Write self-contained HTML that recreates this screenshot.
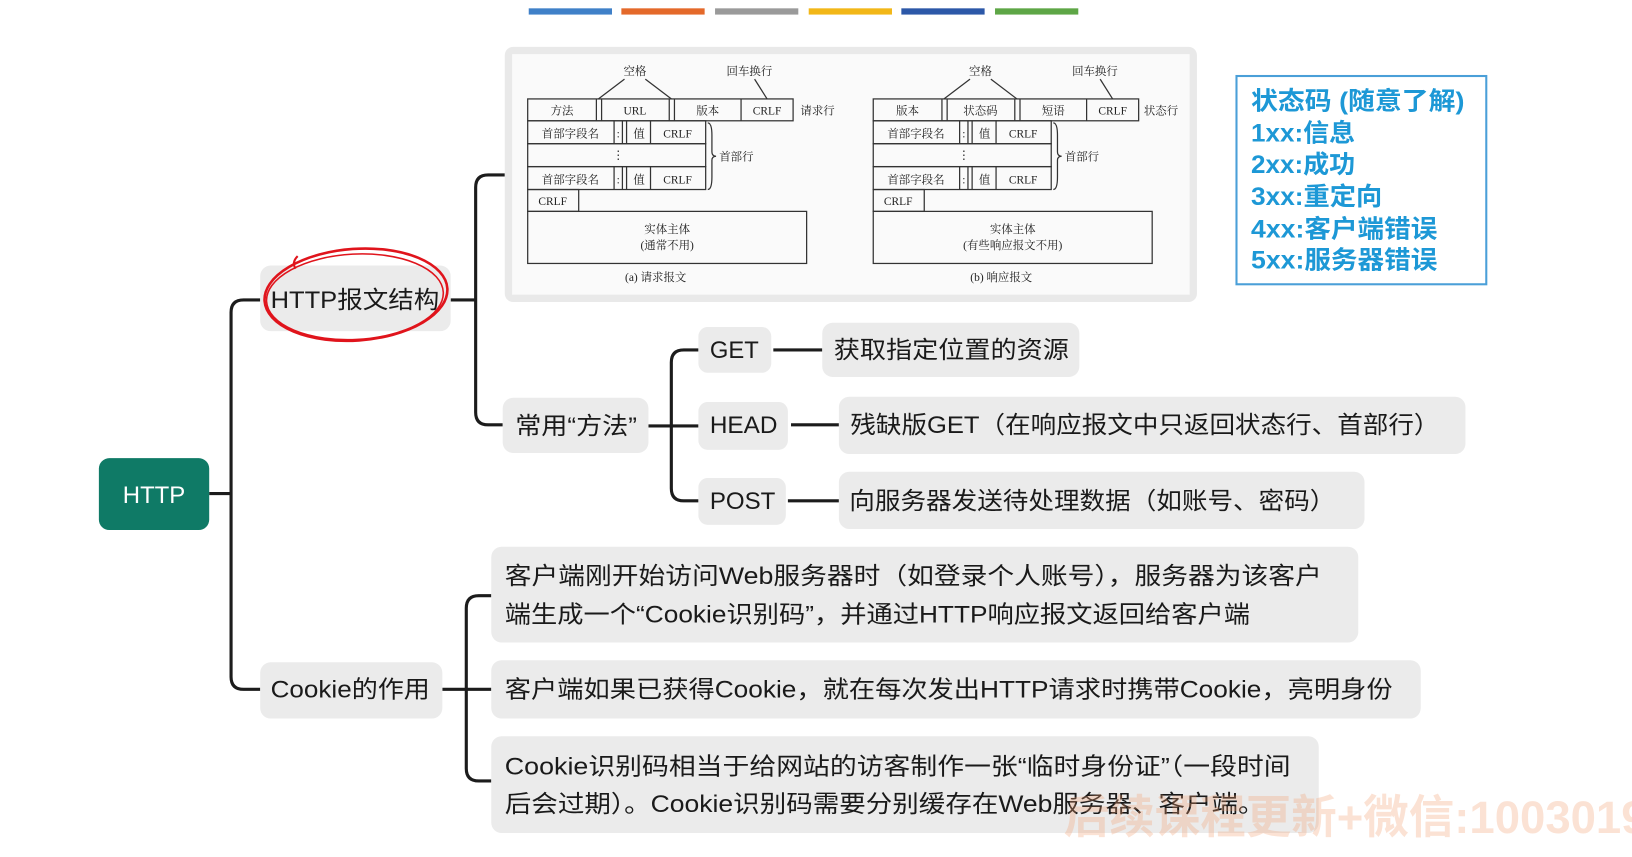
<!DOCTYPE html>
<html><head><meta charset="utf-8"><style>
html,body{margin:0;padding:0;background:#fff;}
svg{display:block;}
.t{font-family:"Liberation Sans","Noto Sans CJK SC",sans-serif;fill:#1a1a1a;}
.d{font-family:"Liberation Serif","Noto Serif CJK SC",serif;fill:#222;font-size:11px;}
</style></head><body>
<svg width="1632" height="857" viewBox="0 0 1568 823" preserveAspectRatio="none" xmlns="http://www.w3.org/2000/svg">
<rect width="1568" height="823" fill="#fff"/>
<rect x="508" y="8" width="80" height="6" fill="#3f80c8"/>
<rect x="597" y="8" width="80" height="6" fill="#e4692a"/>
<rect x="687" y="8" width="80" height="6" fill="#9a9a9a"/>
<rect x="777" y="8" width="80" height="6" fill="#f2b718"/>
<rect x="866" y="8" width="80" height="6" fill="#2c58a8"/>
<rect x="956" y="8" width="80" height="6" fill="#5ea646"/>

<g fill="none" stroke="#1c1c1c" stroke-width="3">
<path d="M201 474 H222"/>
<path d="M250 288 H234 Q222 288 222 300 V650 Q222 662 234 662 H250"/>
<path d="M433 288 H457"/>
<path d="M485 168 H469 Q457 168 457 180 V396 Q457 408 469 408 H483"/>
<path d="M623 409 H671"/>
<path d="M671 336 H657 Q645 336 645 348 V469 Q645 481 657 481 H671"/>
<path d="M743 336 H790"/>
<path d="M760 408 H806"/>
<path d="M757 481 H806"/>
<path d="M425 662 H472"/>
<path d="M472 572 H460 Q448 572 448 584 V738 Q448 750 460 750 H472"/>
</g>

<rect x="485" y="45" width="665" height="245" rx="8" fill="#e9e9e9"/>
<rect x="492" y="52" width="651" height="231" fill="#fafafa"/>
<g fill="none" stroke="#333" stroke-width="1.2">
<rect x="507" y="95" width="255" height="21"/>
<line x1="573" y1="95" x2="573" y2="116"/><line x1="578" y1="95" x2="578" y2="116"/>
<line x1="643" y1="95" x2="643" y2="116"/><line x1="648" y1="95" x2="648" y2="116"/>
<line x1="712" y1="95" x2="712" y2="116"/>
<rect x="507" y="116" width="171" height="22"/>
<rect x="507" y="138" width="171" height="22"/>
<rect x="507" y="160" width="171" height="22"/>
<line x1="590" y1="116" x2="590" y2="138"/><line x1="598" y1="116" x2="598" y2="138"/><line x1="602" y1="116" x2="602" y2="138"/><line x1="625" y1="116" x2="625" y2="138"/>
<line x1="590" y1="160" x2="590" y2="182"/><line x1="598" y1="160" x2="598" y2="182"/><line x1="602" y1="160" x2="602" y2="182"/><line x1="625" y1="160" x2="625" y2="182"/>
<rect x="507" y="182" width="49" height="21"/>
<rect x="507" y="203" width="268" height="50"/>
<line x1="575" y1="95" x2="600" y2="76"/><line x1="645" y1="95" x2="620" y2="76"/>
<line x1="737" y1="95" x2="725" y2="76"/>
<path d="M680 118 Q684 118 684 130 V146 Q684 150 688 150 Q684 150 684 154 V170 Q684 182 680 182"/>
</g>
<g class="d">
<text x="540" y="110" text-anchor="middle">方法</text>
<text x="610" y="110" text-anchor="middle">URL</text>
<text x="680" y="110" text-anchor="middle">版本</text>
<text x="737" y="110" text-anchor="middle">CRLF</text>
<text x="769" y="110">请求行</text>
<text x="548" y="132" text-anchor="middle">首部字段名</text>
<text x="594" y="132" text-anchor="middle">:</text>
<text x="614" y="132" text-anchor="middle">值</text>
<text x="651" y="132" text-anchor="middle">CRLF</text>
<text x="594" y="152" text-anchor="middle">⋮</text>
<text x="548" y="176" text-anchor="middle">首部字段名</text>
<text x="594" y="176" text-anchor="middle">:</text>
<text x="614" y="176" text-anchor="middle">值</text>
<text x="651" y="176" text-anchor="middle">CRLF</text>
<text x="691" y="154">首部行</text>
<text x="531" y="197" text-anchor="middle">CRLF</text>
<text x="641" y="224" text-anchor="middle">实体主体</text>
<text x="641" y="239" text-anchor="middle">(通常不用)</text>
<text x="630" y="270" text-anchor="middle">(a) 请求报文</text>
<text x="610" y="72" text-anchor="middle">空格</text>
<text x="720" y="72" text-anchor="middle">回车换行</text>
</g>
<g fill="none" stroke="#333" stroke-width="1.2" transform="translate(332,0)">
<rect x="507" y="95" width="255" height="21"/>
<line x1="573" y1="95" x2="573" y2="116"/><line x1="578" y1="95" x2="578" y2="116"/>
<line x1="643" y1="95" x2="643" y2="116"/><line x1="648" y1="95" x2="648" y2="116"/>
<line x1="712" y1="95" x2="712" y2="116"/>
<rect x="507" y="116" width="171" height="22"/>
<rect x="507" y="138" width="171" height="22"/>
<rect x="507" y="160" width="171" height="22"/>
<line x1="590" y1="116" x2="590" y2="138"/><line x1="598" y1="116" x2="598" y2="138"/><line x1="602" y1="116" x2="602" y2="138"/><line x1="625" y1="116" x2="625" y2="138"/>
<line x1="590" y1="160" x2="590" y2="182"/><line x1="598" y1="160" x2="598" y2="182"/><line x1="602" y1="160" x2="602" y2="182"/><line x1="625" y1="160" x2="625" y2="182"/>
<rect x="507" y="182" width="49" height="21"/>
<rect x="507" y="203" width="268" height="50"/>
<line x1="575" y1="95" x2="600" y2="76"/><line x1="645" y1="95" x2="620" y2="76"/>
<line x1="737" y1="95" x2="725" y2="76"/>
<path d="M680 118 Q684 118 684 130 V146 Q684 150 688 150 Q684 150 684 154 V170 Q684 182 680 182"/>
</g>
<g class="d" transform="translate(332,0)">
<text x="540" y="110" text-anchor="middle">版本</text>
<text x="610" y="110" text-anchor="middle">状态码</text>
<text x="680" y="110" text-anchor="middle">短语</text>
<text x="737" y="110" text-anchor="middle">CRLF</text>
<text x="767" y="110">状态行</text>
<text x="548" y="132" text-anchor="middle">首部字段名</text>
<text x="594" y="132" text-anchor="middle">:</text>
<text x="614" y="132" text-anchor="middle">值</text>
<text x="651" y="132" text-anchor="middle">CRLF</text>
<text x="594" y="152" text-anchor="middle">⋮</text>
<text x="548" y="176" text-anchor="middle">首部字段名</text>
<text x="594" y="176" text-anchor="middle">:</text>
<text x="614" y="176" text-anchor="middle">值</text>
<text x="651" y="176" text-anchor="middle">CRLF</text>
<text x="691" y="154">首部行</text>
<text x="531" y="197" text-anchor="middle">CRLF</text>
<text x="641" y="224" text-anchor="middle">实体主体</text>
<text x="641" y="239" text-anchor="middle">(有些响应报文不用)</text>
<text x="630" y="270" text-anchor="middle">(b) 响应报文</text>
<text x="610" y="72" text-anchor="middle">空格</text>
<text x="720" y="72" text-anchor="middle">回车换行</text>
</g>

<rect x="1188" y="73" width="240" height="200" fill="#fff" stroke="#4a9fd8" stroke-width="2"/>
<g font-family="Liberation Sans,Noto Sans CJK SC,sans-serif" font-weight="bold" font-size="24" fill="#1d98d6">
<text x="1202" y="105" textLength="205" lengthAdjust="spacingAndGlyphs">状态码 (随意了解)</text>
<text x="1202" y="136" textLength="100" lengthAdjust="spacingAndGlyphs">1xx:信息</text>
<text x="1202" y="166" textLength="100" lengthAdjust="spacingAndGlyphs">2xx:成功</text>
<text x="1202" y="197" textLength="126" lengthAdjust="spacingAndGlyphs">3xx:重定向</text>
<text x="1202" y="228" textLength="179" lengthAdjust="spacingAndGlyphs">4xx:客户端错误</text>
<text x="1202" y="258" textLength="179" lengthAdjust="spacingAndGlyphs">5xx:服务器错误</text>
</g>

<rect x="95" y="440" width="106" height="69" rx="10" fill="#0f7a66"/>
<text x="148" y="483" text-anchor="middle" font-family="Liberation Sans,sans-serif" font-size="23" fill="#fff">HTTP</text>
<g fill="#ebebeb">
<rect x="250" y="255" width="183" height="63" rx="10"/>
<rect x="483" y="382" width="140" height="53" rx="10"/>
<rect x="671" y="314" width="70" height="44" rx="9"/>
<rect x="790" y="310" width="247" height="52" rx="10"/>
<rect x="671" y="386" width="86" height="46" rx="9"/>
<rect x="806" y="381" width="602" height="55" rx="10"/>
<rect x="671" y="459" width="84" height="45" rx="9"/>
<rect x="806" y="453" width="505" height="55" rx="10"/>
<rect x="250" y="636" width="175" height="54" rx="10"/>
<rect x="472" y="525" width="833" height="92" rx="10"/>
<rect x="472" y="634" width="893" height="56" rx="10"/>
<rect x="472" y="707" width="795" height="93" rx="10"/>
</g>
<g class="t" font-size="23">
<text x="260" y="296" textLength="162" lengthAdjust="spacingAndGlyphs">HTTP报文结构</text>
<text x="495" y="417" textLength="117" lengthAdjust="spacingAndGlyphs">常用“方法”</text>
<text x="682" y="344" textLength="47" lengthAdjust="spacingAndGlyphs">GET</text>
<text x="801" y="344" textLength="226" lengthAdjust="spacingAndGlyphs">获取指定位置的资源</text>
<text x="682" y="416" textLength="65" lengthAdjust="spacingAndGlyphs">HEAD</text>
<text x="817" y="416" textLength="566" lengthAdjust="spacingAndGlyphs">残缺版GET（在响应报文中只返回状态行、首部行）</text>
<text x="682" y="489" textLength="63" lengthAdjust="spacingAndGlyphs">POST</text>
<text x="816" y="489" textLength="467" lengthAdjust="spacingAndGlyphs">向服务器发送待处理数据（如账号、密码）</text>
<text x="260" y="670" textLength="153" lengthAdjust="spacingAndGlyphs">Cookie的作用</text>
<text x="485" y="561" textLength="785" lengthAdjust="spacingAndGlyphs">客户端刚开始访问Web服务器时（如登录个人账号），服务器为该客户</text>
<text x="485" y="598" textLength="716" lengthAdjust="spacingAndGlyphs">端生成一个“Cookie识别码”，并通过HTTP响应报文返回给客户端</text>
<text x="485" y="670" textLength="853" lengthAdjust="spacingAndGlyphs">客户端如果已获得Cookie，就在每次发出HTTP请求时携带Cookie，亮明身份</text>
<text x="485" y="744" textLength="755" lengthAdjust="spacingAndGlyphs">Cookie识别码相当于给网站的访客制作一张“临时身份证”（一段时间</text>
<text x="485" y="780" textLength="730" lengthAdjust="spacingAndGlyphs">后会过期）。Cookie识别码需要分别缓存在Web服务器、客户端。</text>
</g>

<ellipse cx="342" cy="283" rx="88" ry="44" fill="none" stroke="#e0141c" stroke-width="2.5" transform="rotate(-4 342 283)"/>
<ellipse cx="341" cy="285" rx="85" ry="41" fill="none" stroke="#e0141c" stroke-width="1.5" transform="rotate(-3 341 285)"/>
<path d="M286 246 Q280 252 284 258" fill="none" stroke="#e0141c" stroke-width="2"/>

<text x="1022" y="800" font-family="Liberation Sans,Noto Sans CJK SC,sans-serif" font-weight="bold" font-size="44" fill="#f2a070" fill-opacity="0.3" textLength="560" lengthAdjust="spacingAndGlyphs">后续课程更新+微信:1003019</text>
</svg>
</body></html>
